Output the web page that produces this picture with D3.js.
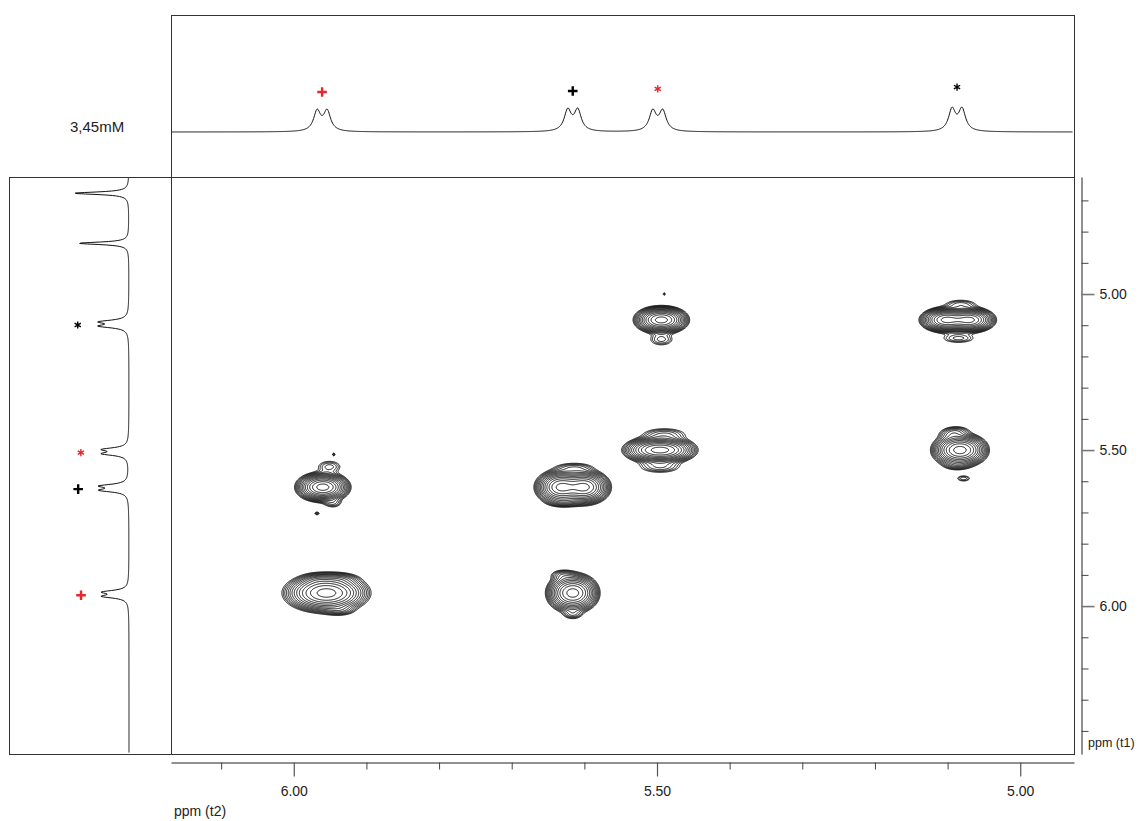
<!DOCTYPE html>
<html>
<head>
<meta charset="utf-8">
<script src="https://cdn.jsdelivr.net/npm/d3@7"></script>
<style>
  html, body { margin: 0; padding: 0; background: #fff; }
  svg { display: block; font-family: "Liberation Sans", Arial, sans-serif; }
</style>
</head>
<body>
<svg id="chart" width="1143" height="821"></svg>
<script>
// ---------------- data ----------------
const sampleLabel = "3,45mM";
const t2AxisTitle = "ppm (t2)";
const t1AxisTitle = "ppm (t1)";

// axis ticks (ppm)
const t2Ticks = [6.1, 6.0, 5.9, 5.8, 5.7, 5.6, 5.5, 5.4, 5.3, 5.2, 5.1, 5.0];
const t1Ticks = [4.7, 4.8, 4.9, 5.0, 5.1, 5.2, 5.3, 5.4, 5.5, 5.6, 5.7, 5.8, 5.9, 6.0, 6.1, 6.2, 6.3, 6.4];
const majorTicks = [5.0, 5.5, 6.0];

// visible spectral windows (ppm)
const t2Window = [6.169, 4.926];
const t1Window = [4.625, 6.474];

// t2 projection: doublets (shift, height, J splitting, Lorentzian half width)
const f2Shift  = [5.961, 5.616, 5.499, 5.087];
const f2Height = [0.92, 0.96, 0.92, 1.0];
const f2Split  = [0.0138, 0.0138, 0.0138, 0.0138];
const f2Width  = [0.0058, 0.0058, 0.0058, 0.0058];
const f2Mark   = ["+", "+", "*", "*"];
const f2MarkColor = ["#e8262b", "#000000", "#e8262b", "#000000"];

// t1 projection
const f1Shift  = [4.677, 4.8375, 5.096, 5.505, 5.622, 5.962];
const f1Height = [1.0, 0.91, 0.57, 0.51, 0.56, 0.51];
const f1Split  = [0, 0, 0.014, 0.014, 0.014, 0.014];
const f1Width  = [0.0048, 0.0048, 0.0064, 0.0064, 0.0064, 0.0064];
const f1Mark   = [null, null, "*", "*", "+", "+"];
const f1MarkColor = [null, null, "#000000", "#e8262b", "#000000", "#e8262b"];

// 2D cross peaks: t2 / t1 centre, t2 doublet splitting, gaussian widths (ppm)
const crossT2    = [5.960, 5.955, 5.616, 5.616, 5.494, 5.496, 5.086, 5.083];
const crossT1    = [5.619, 5.958, 5.619, 5.958, 5.083, 5.500, 5.083, 5.500];
const crossSplit = [0.0138, 0.0193, 0.0331, 0.0138, 0.0138, 0.0220, 0.0331, 0.0138];
const crossSdT2  = [0.0128, 0.0207, 0.0138, 0.0123, 0.0128, 0.0165, 0.0138, 0.0135];
const crossSdT1  = [0.0186, 0.0247, 0.0221, 0.0247, 0.0173, 0.0167, 0.0160, 0.0212];

// weak t1-noise ridges and specks around the cross peaks
const ridgeT2  = [5.951, 5.946, 5.945, 5.968, 5.936, 5.968, 5.937, 5.614, 5.627, 5.630, 5.616, 5.490, 5.494, 5.490, 5.496, 5.082, 5.085, 5.088, 5.088, 5.078, 5.096];
const ridgeT1  = [5.553, 5.670, 5.514, 5.703, 5.913, 5.916, 6.013, 5.556, 5.665, 5.900, 6.026, 5.000, 5.146, 5.450, 5.553, 5.033, 5.142, 5.439, 5.548, 5.591, 5.450];
const ridgeAmp = [0.06, 0.05, 0.045, 0.045, 0.06, 0.06, 0.06, 0.06, 0.06, 0.06, 0.06, 0.04, 0.06, 0.07, 0.07, 0.06, 0.06, 0.06, 0.05, 0.05, 0.05];
const ridgeSdT2 = [0.011, 0.008, 0.0016, 0.0028, 0.014, 0.011, 0.012, 0.016, 0.014, 0.010, 0.008, 0.0016, 0.011, 0.019, 0.018, 0.014, 0.015, 0.011, 0.011, 0.007, 0.010];
const ridgeSdT1 = [0.013, 0.010, 0.004, 0.004, 0.010, 0.010, 0.010, 0.010, 0.010, 0.010, 0.010, 0.004, 0.013, 0.013, 0.013, 0.010, 0.010, 0.010, 0.010, 0.007, 0.010];

// contour levels (fraction of cross-peak maximum)
const contourLevels = [0.026, 0.033, 0.042, 0.054, 0.07, 0.09, 0.118, 0.155, 0.205, 0.27, 0.36, 0.48, 0.64, 0.86];

// ---------------- layout ----------------
const svg = d3.select("#chart");
const plot = { left: 171, top: 177, right: 1074, bottom: 754 };
const topPanel = { top: 15, bottom: 177 };
const leftPanel = { left: 9, right: 171 };

const x = d3.scaleLinear().domain(t2Window).range([plot.left, plot.right]);
const y = d3.scaleLinear().domain(t1Window).range([plot.top, plot.bottom]);
const yTop = d3.scaleLinear().domain([0, 1]).range([132, 107]);   // t2 projection intensity
const xLeft = d3.scaleLinear().domain([0, 1]).range([129, 74]);   // t1 projection intensity

svg.append("rect").attr("width", 1143).attr("height", 821).attr("fill", "#fff");

// ---------------- line shapes ----------------
const lorentz = (d, w) => 1 / (1 + (d / w) * (d / w));
const gauss = (d, s) => Math.exp(-0.5 * (d / s) * (d / s));

function doubletMax(shape, split, w) {
  let m = 0;
  for (let k = -200; k <= 200; k++) {
    const d = (k / 200) * (split + w);
    m = Math.max(m, shape(d - split / 2, w) + shape(d + split / 2, w));
  }
  return m;
}

// ---------------- 2D contour field ----------------
const W = plot.right - plot.left, H = plot.bottom - plot.top;
const colPpm = d3.range(W).map(i => x.invert(plot.left + i + 0.5));
const rowPpm = d3.range(H).map(j => y.invert(plot.top + j + 0.5));
const field = new Float64Array(W * H);

function addSeparable(fx, fy, amp) {
  const cols = [], rows = [];
  for (let i = 0; i < W; i++) if (fx[i] > 1e-4) cols.push(i);
  for (let j = 0; j < H; j++) if (fy[j] > 1e-4) rows.push(j);
  for (const j of rows) {
    const base = j * W, vy = fy[j] * amp;
    for (const i of cols) field[base + i] += fx[i] * vy;
  }
}

crossT2.forEach((c2, k) => {
  const s = crossSplit[k], sd = crossSdT2[k];
  const norm = doubletMax(gauss, s, sd);
  const fx = colPpm.map(p => (gauss(p - c2 - s / 2, sd) + gauss(p - c2 + s / 2, sd)) / norm);
  const fy = rowPpm.map(p => gauss(p - crossT1[k], crossSdT1[k]));
  addSeparable(fx, fy, 1);
});

ridgeT2.forEach((c2, k) => {
  const fx = colPpm.map(p => gauss(p - c2, ridgeSdT2[k]));
  const fy = rowPpm.map(p => gauss(p - ridgeT1[k], ridgeSdT1[k]));
  addSeparable(fx, fy, ridgeAmp[k]);
});

const contours = d3.contours().size([W, H]).thresholds(contourLevels)(Array.from(field));

svg.append("clipPath").attr("id", "plotClip")
  .append("rect").attr("x", plot.left).attr("y", plot.top).attr("width", W).attr("height", H);

svg.append("g")
  .attr("clip-path", "url(#plotClip)")
  .append("g")
  .attr("transform", `translate(${plot.left},${plot.top})`)
  .selectAll("path")
  .data(contours)
  .join("path")
  .attr("d", d3.geoPath())
  .attr("fill", "none")
  .attr("stroke", "#000")
  .attr("stroke-width", 0.9)
  .attr("stroke-linejoin", "round");

// ---------------- projections ----------------
const f2Norm = f2Shift.map((c, k) => doubletMax(lorentz, f2Split[k], f2Width[k]));
function f2Value(p) {
  let v = 0;
  f2Shift.forEach((c, k) => {
    const s = f2Split[k], w = f2Width[k];
    v += f2Height[k] * (lorentz(p - c - s / 2, w) + lorentz(p - c + s / 2, w)) / f2Norm[k];
  });
  return v;
}
const f1Norm = f1Shift.map((c, k) => doubletMax(lorentz, f1Split[k], f1Width[k]));
function f1Value(p) {
  let v = 0;
  f1Shift.forEach((c, k) => {
    const s = f1Split[k], w = f1Width[k];
    v += f1Height[k] * (lorentz(p - c - s / 2, w) + lorentz(p - c + s / 2, w)) / f1Norm[k];
  });
  return v;
}

const t2Samples = d3.range(plot.left + 1, plot.right - 1, 0.5).map(px => x.invert(px));
svg.append("path")
  .datum(t2Samples)
  .attr("d", d3.line().x(p => x(p)).y(p => yTop(f2Value(p))))
  .attr("fill", "none").attr("stroke", "#111").attr("stroke-width", 1);

const t1Samples = d3.range(plot.top + 1, plot.bottom - 1, 0.5).map(py => y.invert(py));
svg.append("path")
  .datum(t1Samples)
  .attr("d", d3.line().x(p => xLeft(f1Value(p))).y(p => y(p)))
  .attr("fill", "none").attr("stroke", "#111").attr("stroke-width", 1);

// ---------------- peak markers ----------------
function drawMark(g, sym, color, cx, cy) {
  if (sym === "+") {
    const r = 4.8;
    g.append("path")
      .attr("d", `M${cx - r},${cy}H${cx + r}M${cx},${cy - r}V${cy + r}`)
      .attr("stroke", color).attr("stroke-width", 2.4).attr("fill", "none");
  } else {
    const r = 3.6;
    let d = "";
    for (let a = 0; a < 3; a++) {
      const ang = Math.PI / 2 + a * Math.PI / 3;
      d += `M${cx - r * Math.cos(ang)},${cy - r * Math.sin(ang)}L${cx + r * Math.cos(ang)},${cy + r * Math.sin(ang)}`;
    }
    g.append("path").attr("d", d)
      .attr("stroke", color).attr("stroke-width", 1.4).attr("fill", "none");
  }
}
const marks = svg.append("g");
f2Shift.forEach((c, k) => {
  const tip = yTop(f2Value(c + f2Split[k] / 2));
  drawMark(marks, f2Mark[k], f2MarkColor[k], x(c), tip - (f2Mark[k] === "+" ? 17 : 20));
});
f1Shift.forEach((c, k) => {
  if (!f1Mark[k]) return;
  const tip = xLeft(f1Value(c + f1Split[k] / 2));
  drawMark(marks, f1Mark[k], f1MarkColor[k], tip - 20, y(c) + 1);
});

// ---------------- frames ----------------
const frame = svg.append("g").attr("fill", "none").attr("stroke", "#333").attr("stroke-width", 1);
frame.append("rect").attr("x", plot.left + 0.5).attr("y", topPanel.top + 0.5)
  .attr("width", plot.right - plot.left).attr("height", topPanel.bottom - topPanel.top);
frame.append("rect").attr("x", plot.left + 0.5).attr("y", plot.top + 0.5)
  .attr("width", plot.right - plot.left).attr("height", plot.bottom - plot.top);
frame.append("rect").attr("x", leftPanel.left + 0.5).attr("y", plot.top + 0.5)
  .attr("width", leftPanel.right - leftPanel.left).attr("height", plot.bottom - plot.top);

svg.append("text").attr("x", 70).attr("y", 132)
  .attr("font-size", 15).attr("fill", "#222").text(sampleLabel);

// ---------------- axes ----------------
const fmt = d3.format(".2f");
const isMajor = v => majorTicks.some(m => Math.abs(m - v) < 1e-6);

const bottomY = 762.5;
const bMinor = svg.append("g").attr("transform", `translate(0,${bottomY})`)
  .call(d3.axisBottom(x).tickValues(t2Ticks.filter(v => !isMajor(v))).tickSize(7).tickSizeOuter(0).tickFormat(""));
const bMajor = svg.append("g").attr("transform", `translate(0,${bottomY})`)
  .call(d3.axisBottom(x).tickValues(majorTicks).tickSize(14).tickSizeOuter(0).tickPadding(10).tickFormat(fmt));
bMajor.select(".domain").remove();

const rightX = 1081.5;
const rMinor = svg.append("g").attr("transform", `translate(${rightX},0)`)
  .call(d3.axisRight(y).tickValues(t1Ticks.filter(v => !isMajor(v))).tickSize(7).tickSizeOuter(0).tickFormat(""));
const rMajor = svg.append("g").attr("transform", `translate(${rightX},0)`)
  .call(d3.axisRight(y).tickValues(majorTicks).tickSize(13).tickSizeOuter(0).tickPadding(5).tickFormat(fmt));
rMajor.select(".domain").remove();

svg.selectAll(".domain").attr("stroke", "#222");
bMinor.selectAll(".tick line").attr("stroke", "#444");
rMinor.selectAll(".tick line").attr("stroke", "#444");
bMajor.selectAll(".tick line").attr("stroke", "#555").attr("stroke-width", 1.2);
rMajor.selectAll(".tick line").attr("stroke", "#777").attr("stroke-width", 1.6);
svg.selectAll(".tick text")
  .attr("font-family", "'Liberation Sans', Arial, sans-serif")
  .attr("font-size", 14).attr("fill", "#222");

svg.append("text").attr("x", 174).attr("y", 816)
  .attr("font-size", 14).attr("fill", "#222").text(t2AxisTitle);
svg.append("text").attr("x", 1088).attr("y", 747)
  .attr("font-size", 12.5).attr("fill", "#222").text(t1AxisTitle);
</script>
</body>
</html>
